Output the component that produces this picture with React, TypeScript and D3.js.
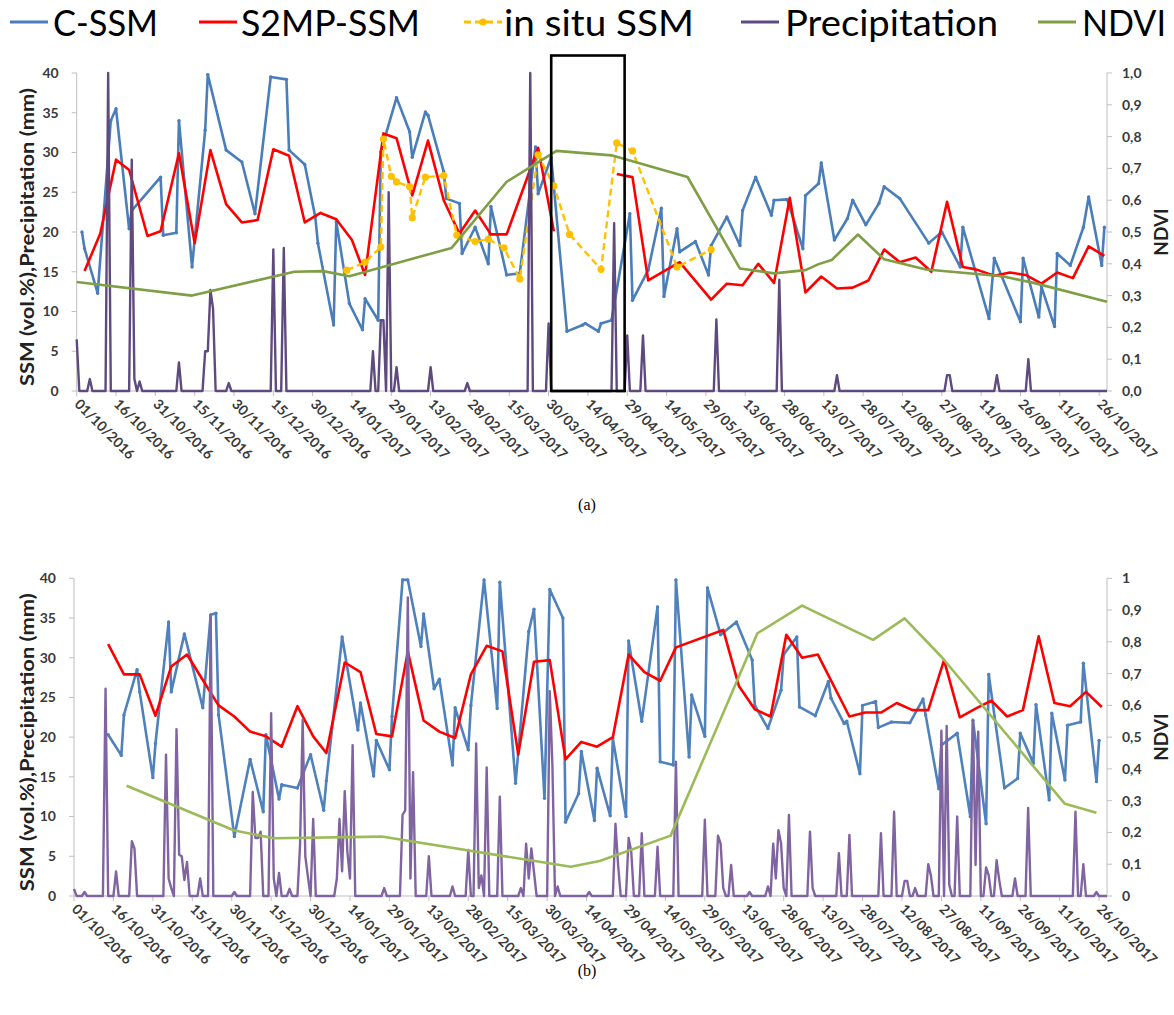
import React from "react";
import * as d3 from "d3";

type Pt = [string, number | null];

// x axis tick labels (every 15 days)
const tickLabels = [
  "01/10/2016", "16/10/2016", "31/10/2016", "15/11/2016", "30/11/2016", "15/12/2016", "30/12/2016",
  "14/01/2017", "29/01/2017", "13/02/2017", "28/02/2017", "15/03/2017", "30/03/2017", "14/04/2017",
  "29/04/2017", "14/05/2017", "29/05/2017", "13/06/2017", "28/06/2017", "13/07/2017", "28/07/2017",
  "12/08/2017", "27/08/2017", "11/09/2017", "26/09/2017", "11/10/2017", "26/10/2017",
];
const ssmTicks = [0, 5, 10, 15, 20, 25, 30, 35, 40];
const ndviTicks = [0, 0.1, 0.2, 0.3, 0.4, 0.5, 0.6, 0.7, 0.8, 0.9, 1];
const ndviLabelsA = ["0,0", "0,1", "0,2", "0,3", "0,4", "0,5", "0,6", "0,7", "0,8", "0,9", "1,0"];
const ndviLabelsB = ["0", "0,1", "0,2", "0,3", "0,4", "0,5", "0,6", "0,7", "0,8", "0,9", "1"];

// ---------- panel (a) ----------
const cssmA: Pt[] = [
  ["2016-10-03", 20.0], ["2016-10-04", 17.9], ["2016-10-09", 12.3], ["2016-10-14", 34.0], ["2016-10-16", 35.5],
  ["2016-10-21", 20.4], ["2016-10-22", 22.7], ["2016-11-02", 26.9], ["2016-11-03", 19.6], ["2016-11-08", 19.9],
  ["2016-11-09", 34.0], ["2016-11-14", 15.6], ["2016-11-19", 32.8], ["2016-11-20", 39.8], ["2016-11-27", 30.3],
  ["2016-12-03", 28.8], ["2016-12-08", 22.3], ["2016-12-14", 39.5], ["2016-12-20", 39.2], ["2016-12-21", 30.3],
  ["2016-12-27", 28.5], ["2016-12-31", 21.9], ["2017-01-01", 18.6], ["2017-01-07", 8.3], ["2017-01-08", 21.3],
  ["2017-01-13", 11.0], ["2017-01-18", 7.7], ["2017-01-19", 11.6], ["2017-01-24", 8.9], ["2017-01-25", 30.1],
  ["2017-01-31", 36.9], ["2017-02-05", 32.6], ["2017-02-06", 29.4], ["2017-02-11", 35.1], ["2017-02-12", 34.7],
  ["2017-02-18", 27.6], ["2017-02-19", 24.2], ["2017-02-24", 23.6], ["2017-02-25", 17.3], ["2017-03-02", 20.6],
  ["2017-03-07", 16.0], ["2017-03-08", 23.2], ["2017-03-14", 14.6], ["2017-03-19", 14.8], ["2017-03-25", 30.7],
  ["2017-03-26", 24.8], ["2017-03-31", 29.4], ["2017-04-06", 7.5], ["2017-04-12", 8.3], ["2017-04-13", 8.5],
  ["2017-04-18", 7.5], ["2017-04-19", 8.5], ["2017-04-23", 8.9], ["2017-04-30", 22.3], ["2017-05-01", 11.4],
  ["2017-05-07", 15.2], ["2017-05-12", 23.0], ["2017-05-13", 11.9], ["2017-05-18", 20.4], ["2017-05-19", 17.5],
  ["2017-05-25", 18.8], ["2017-05-30", 14.6], ["2017-05-31", 18.3], ["2017-06-06", 21.9], ["2017-06-11", 18.3],
  ["2017-06-12", 22.7], ["2017-06-17", 26.9], ["2017-06-23", 22.1], ["2017-06-24", 24.0], ["2017-06-29", 24.1],
  ["2017-07-05", 17.9], ["2017-07-06", 24.6], ["2017-07-11", 26.1], ["2017-07-12", 28.7], ["2017-07-17", 19.0],
  ["2017-07-22", 21.7], ["2017-07-24", 24.0], ["2017-07-29", 20.9], ["2017-08-03", 23.6], ["2017-08-05", 25.7],
  ["2017-08-11", 24.2], ["2017-08-22", 18.6], ["2017-08-27", 20.0], ["2017-09-03", 15.6], ["2017-09-04", 20.6],
  ["2017-09-14", 9.1], ["2017-09-16", 16.7], ["2017-09-26", 8.7], ["2017-09-27", 16.7], ["2017-10-03", 9.3],
  ["2017-10-04", 13.1], ["2017-10-09", 8.1], ["2017-10-10", 17.3], ["2017-10-15", 15.8], ["2017-10-20", 20.6],
  ["2017-10-22", 24.4], ["2017-10-27", 15.8], ["2017-10-28", 20.6],
];

const s2mpA: Pt[] = [
  ["2016-10-04", 15.1], ["2016-10-10", 19.8], ["2016-10-16", 29.1], ["2016-10-21", 27.8], ["2016-10-28", 19.5],
  ["2016-11-02", 20.1], ["2016-11-09", 29.9], ["2016-11-15", 18.6], ["2016-11-21", 30.3], ["2016-11-27", 23.5],
  ["2016-12-03", 21.2], ["2016-12-09", 21.5], ["2016-12-15", 30.4], ["2016-12-21", 29.6], ["2016-12-27", 21.2],
  ["2017-01-02", 22.4], ["2017-01-08", 21.6], ["2017-01-14", 19.0], ["2017-01-19", 14.6], ["2017-01-26", 32.4],
  ["2017-01-31", 31.8], ["2017-02-06", 24.6], ["2017-02-12", 31.5], ["2017-02-18", 24.0], ["2017-02-24", 19.8],
  ["2017-03-02", 22.7], ["2017-03-08", 19.7], ["2017-03-14", 19.7], ["2017-03-26", 30.6], ["2017-04-01", 20.1],
  ["2017-04-12", null],
  ["2017-04-25", 27.3], ["2017-05-01", 26.9], ["2017-05-07", 13.9], ["2017-05-19", 16.2], ["2017-05-31", 11.5],
  ["2017-06-06", 13.5], ["2017-06-12", 13.3], ["2017-06-18", 16.0], ["2017-06-24", 13.6], ["2017-06-30", 24.3],
  ["2017-07-06", 12.4], ["2017-07-12", 14.4], ["2017-07-18", 12.9], ["2017-07-24", 13.0], ["2017-07-30", 13.9],
  ["2017-08-05", 17.8], ["2017-08-11", 16.2], ["2017-08-17", 16.8], ["2017-08-23", 15.0], ["2017-08-29", 23.8],
  ["2017-09-04", 15.6], ["2017-09-09", 15.3], ["2017-09-16", 14.5], ["2017-09-22", 14.9], ["2017-09-28", 14.6],
  ["2017-10-04", 13.5], ["2017-10-10", 14.9], ["2017-10-16", 14.2], ["2017-10-22", 18.2], ["2017-10-28", 17.0],
];

const insituA: Pt[] = [
  ["2017-01-12", 15.2], ["2017-01-19", 16.2], ["2017-01-25", 18.1], ["2017-01-26", 31.7], ["2017-01-29", 27.0],
  ["2017-01-31", 26.3], ["2017-02-05", 25.7], ["2017-02-06", 21.8], ["2017-02-11", 26.9], ["2017-02-18", 27.1],
  ["2017-02-23", 19.6], ["2017-03-02", 18.8], ["2017-03-07", 19.1], ["2017-03-13", 18.0], ["2017-03-19", 14.1],
  ["2017-03-26", 29.7], ["2017-04-01", 25.8], ["2017-04-07", 19.7], ["2017-04-19", 15.3], ["2017-04-25", 31.2],
  ["2017-05-01", 30.2], ["2017-05-18", 15.6], ["2017-05-31", 17.8],
];

const ndviA: Pt[] = [
  ["2016-10-01", 0.343], ["2016-11-14", 0.30], ["2016-12-23", 0.375], ["2017-01-03", 0.377], ["2017-01-13", 0.361],
  ["2017-02-21", 0.45], ["2017-03-14", 0.658], ["2017-04-02", 0.755], ["2017-04-23", 0.741], ["2017-05-22", 0.673],
  ["2017-06-11", 0.385], ["2017-06-24", 0.370], ["2017-07-06", 0.38], ["2017-07-11", 0.399], ["2017-07-16", 0.412],
  ["2017-07-26", 0.492], ["2017-08-05", 0.414], ["2017-08-21", 0.382], ["2017-09-19", 0.361], ["2017-10-01", 0.34],
  ["2017-10-29", 0.281],
];

// rainy days only (mm); every other day is 0
const rainA: Pt[] = [
  ["2016-10-01", 6.5], ["2016-10-06", 1.5], ["2016-10-13", 40], ["2016-10-22", 29.1], ["2016-10-23", 1.5],
  ["2016-10-25", 1.2], ["2016-11-09", 3.6], ["2016-11-19", 5], ["2016-11-20", 5], ["2016-11-21", 12.7],
  ["2016-11-22", 10.4], ["2016-11-28", 1], ["2016-12-15", 17.8], ["2016-12-19", 18], ["2017-01-22", 5],
  ["2017-01-25", 8.9], ["2017-01-26", 8.9], ["2017-01-28", 25], ["2017-01-31", 3], ["2017-02-13", 3],
  ["2017-02-27", 1], ["2017-03-23", 40], ["2017-03-30", 8.5], ["2017-04-24", 21.1], ["2017-04-29", 7],
  ["2017-05-05", 7], ["2017-06-02", 9], ["2017-06-26", 14], ["2017-07-18", 2], ["2017-08-29", 2],
  ["2017-08-30", 2], ["2017-09-17", 2], ["2017-09-29", 4],
];

// highlighted period in (a): dates and SSM top value
const boxA: [string, string, number] = ["2017-03-31", "2017-04-28", 42.2];

// ---------- panel (b) ----------
const cssmB: Pt[] = [
  ["2016-10-14", 20.3], ["2016-10-19", 17.7], ["2016-10-20", 22.8], ["2016-10-25", 28.5], ["2016-10-26", 25.7],
  ["2016-10-31", 14.9], ["2016-11-01", 19.2], ["2016-11-06", 34.5], ["2016-11-07", 25.7], ["2016-11-12", 33.0],
  ["2016-11-19", 23.7], ["2016-11-22", 35.4], ["2016-11-24", 35.6], ["2016-11-25", 22.8], ["2016-12-01", 7.5],
  ["2016-12-07", 17.2], ["2016-12-12", 10.6], ["2016-12-13", 20.3], ["2016-12-18", 12.2], ["2016-12-19", 14.0],
  ["2016-12-25", 13.6], ["2016-12-30", 17.8], ["2017-01-04", 10.8], ["2017-01-05", 14.5], ["2017-01-11", 32.6],
  ["2017-01-17", 20.9], ["2017-01-18", 24.3], ["2017-01-23", 15.1], ["2017-01-24", 19.6], ["2017-01-29", 15.9],
  ["2017-01-30", 22.6], ["2017-02-03", 39.8], ["2017-02-05", 39.8], ["2017-02-10", 31.4], ["2017-02-11", 35.5],
  ["2017-02-15", 26.1], ["2017-02-17", 27.3], ["2017-02-22", 16.5], ["2017-02-23", 23.7], ["2017-02-28", 18.4],
  ["2017-03-01", 24.0], ["2017-03-06", 39.8], ["2017-03-11", 23.6], ["2017-03-12", 39.5], ["2017-03-18", 14.2],
  ["2017-03-23", 33.3], ["2017-03-25", 36.1], ["2017-03-29", 12.3], ["2017-03-31", 38.6], ["2017-04-05", 35.0],
  ["2017-04-06", 9.3], ["2017-04-11", 12.9], ["2017-04-12", 18.2], ["2017-04-17", 9.5], ["2017-04-18", 16.1],
  ["2017-04-23", 10.1], ["2017-04-24", 19.8], ["2017-04-29", 10.0], ["2017-04-30", 32.1], ["2017-05-05", 22.0],
  ["2017-05-11", 36.4], ["2017-05-12", 16.9], ["2017-05-17", 16.5], ["2017-05-18", 39.8], ["2017-05-23", 17.5],
  ["2017-05-24", 25.3], ["2017-05-29", 20.1], ["2017-05-30", 38.8], ["2017-06-04", 32.9], ["2017-06-10", 34.5],
  ["2017-06-16", 29.7], ["2017-06-17", 24.0], ["2017-06-22", 21.1], ["2017-06-27", 25.9], ["2017-06-28", 30.4],
  ["2017-07-03", 32.6], ["2017-07-04", 23.8], ["2017-07-10", 22.7], ["2017-07-15", 27.0], ["2017-07-16", 24.9],
  ["2017-07-21", 21.7], ["2017-07-22", 22.0], ["2017-07-27", 15.4], ["2017-07-28", 24.0], ["2017-08-02", 24.5],
  ["2017-08-03", 21.2], ["2017-08-08", 21.9], ["2017-08-15", 21.8], ["2017-08-20", 24.8], ["2017-08-21", 22.8],
  ["2017-08-26", 13.5], ["2017-08-27", 19.0], ["2017-09-02", 20.5], ["2017-09-07", 10.0], ["2017-09-08", 22.1],
  ["2017-09-13", 9.1], ["2017-09-14", 27.9], ["2017-09-20", 13.6], ["2017-09-25", 14.8], ["2017-09-26", 20.5],
  ["2017-10-01", 16.7], ["2017-10-02", 24.1], ["2017-10-07", 12.1], ["2017-10-08", 23.0], ["2017-10-13", 14.6],
  ["2017-10-14", 21.5], ["2017-10-19", 21.9], ["2017-10-20", 29.3], ["2017-10-25", 14.4], ["2017-10-26", 19.6],
];

const s2mpB: Pt[] = [
  ["2016-10-14", 31.7], ["2016-10-20", 27.9], ["2016-10-26", 27.9], ["2016-11-01", 22.7], ["2016-11-07", 28.9],
  ["2016-11-13", 30.4], ["2016-11-19", 27.2], ["2016-11-25", 24.0], ["2016-12-01", 22.6], ["2016-12-07", 20.7],
  ["2016-12-13", 20.1], ["2016-12-19", 18.8], ["2016-12-25", 23.9], ["2016-12-31", 20.1], ["2017-01-05", 18.0],
  ["2017-01-12", 29.4], ["2017-01-18", 28.2], ["2017-01-24", 20.4], ["2017-01-30", 20.1], ["2017-02-05", 30.8],
  ["2017-02-11", 22.1], ["2017-02-17", 20.7], ["2017-02-23", 19.9], ["2017-03-01", 27.9], ["2017-03-07", 31.5],
  ["2017-03-13", 30.8], ["2017-03-19", 17.8], ["2017-03-25", 29.5], ["2017-03-31", 29.7], ["2017-04-06", 17.2],
  ["2017-04-12", 19.4], ["2017-04-18", 18.8], ["2017-04-24", 20.0], ["2017-04-30", 30.4], ["2017-05-06", 28.2],
  ["2017-05-12", 27.1], ["2017-05-18", 31.3], ["2017-06-05", 33.5], ["2017-06-11", 26.4], ["2017-06-17", 23.5],
  ["2017-06-23", 22.6], ["2017-06-29", 32.9], ["2017-07-05", 30.0], ["2017-07-11", 30.4], ["2017-07-23", 22.6],
  ["2017-07-29", 23.1], ["2017-08-04", 23.1], ["2017-08-10", 24.3], ["2017-08-16", 23.4], ["2017-08-22", 23.4],
  ["2017-08-28", 29.7], ["2017-09-03", 22.5], ["2017-09-09", 23.6], ["2017-09-15", 24.6], ["2017-09-21", 22.6],
  ["2017-09-27", 23.4], ["2017-10-03", 32.7], ["2017-10-09", 24.3], ["2017-10-15", 23.9], ["2017-10-21", 25.7],
  ["2017-10-27", 23.8],
];

const ndviB: Pt[] = [
  ["2016-10-21", 0.347], ["2016-12-01", 0.206], ["2016-12-16", 0.182], ["2017-01-26", 0.187], ["2017-04-08", 0.092],
  ["2017-04-19", 0.11], ["2017-05-16", 0.19], ["2017-06-18", 0.827], ["2017-07-05", 0.914], ["2017-08-01", 0.806],
  ["2017-08-13", 0.874], ["2017-08-27", 0.753], ["2017-10-13", 0.29], ["2017-10-25", 0.262],
];

const rainB: Pt[] = [
  ["2016-10-01", 0.9], ["2016-10-05", 0.5], ["2016-10-13", 26.1], ["2016-10-17", 3.1], ["2016-10-23", 6.9],
  ["2016-10-24", 6.0], ["2016-11-05", 17.8], ["2016-11-06", 2.2], ["2016-11-07", 1.0], ["2016-11-09", 21.0],
  ["2016-11-10", 5.2], ["2016-11-11", 5.0], ["2016-11-12", 2.0], ["2016-11-13", 4.3], ["2016-11-18", 2.2],
  ["2016-11-22", 35.2], ["2016-12-01", 0.5], ["2016-12-08", 13.1], ["2016-12-09", 7.3], ["2016-12-10", 7.3],
  ["2016-12-11", 8.1], ["2016-12-15", 23.0], ["2016-12-16", 2.2], ["2016-12-18", 2.9], ["2016-12-22", 0.9],
  ["2016-12-26", 6.4], ["2016-12-27", 22.2], ["2016-12-28", 5.0], ["2016-12-29", 2.4], ["2016-12-31", 9.7],
  ["2017-01-09", 2.2], ["2017-01-10", 9.7], ["2017-01-11", 3.1], ["2017-01-12", 13.2], ["2017-01-13", 5.6],
  ["2017-01-14", 2.2], ["2017-01-15", 19.0], ["2017-01-27", 1.0], ["2017-02-03", 10.2], ["2017-02-04", 10.8],
  ["2017-02-05", 37.6], ["2017-02-06", 2.2], ["2017-02-07", 15.6], ["2017-02-13", 5.0], ["2017-02-22", 1.2],
  ["2017-02-28", 5.8], ["2017-03-03", 19.2], ["2017-03-04", 1.0], ["2017-03-05", 2.6], ["2017-03-07", 16.2],
  ["2017-03-12", 12.5], ["2017-03-20", 1.0], ["2017-03-22", 6.6], ["2017-03-23", 2.2], ["2017-03-24", 6.0],
  ["2017-03-25", 3.0], ["2017-03-31", 25.8], ["2017-04-01", 16.5], ["2017-04-03", 1.2], ["2017-04-15", 0.5],
  ["2017-04-25", 9.1], ["2017-04-26", 3.9], ["2017-04-30", 7.3], ["2017-05-01", 5.6], ["2017-05-05", 7.9],
  ["2017-05-11", 6.2], ["2017-05-18", 16.9], ["2017-05-29", 9.6], ["2017-06-03", 7.6], ["2017-06-04", 6.6],
  ["2017-06-05", 1.0], ["2017-06-08", 3.9], ["2017-06-15", 0.5], ["2017-06-22", 1.2], ["2017-06-24", 6.6],
  ["2017-06-25", 2.2], ["2017-06-26", 8.3], ["2017-06-27", 6.6], ["2017-06-28", 1.0], ["2017-06-30", 10.2],
  ["2017-07-08", 8.1], ["2017-07-09", 1.0], ["2017-07-19", 5.4], ["2017-07-23", 7.7], ["2017-08-04", 7.9],
  ["2017-08-09", 10.6], ["2017-08-13", 1.9], ["2017-08-14", 1.9], ["2017-08-17", 1.0], ["2017-08-22", 4.0],
  ["2017-08-23", 2.6], ["2017-08-27", 20.8], ["2017-08-29", 21.4], ["2017-08-30", 1.4], ["2017-09-02", 10.0],
  ["2017-09-08", 22.2], ["2017-09-09", 3.9], ["2017-09-10", 20.7], ["2017-09-13", 3.6], ["2017-09-14", 2.6],
  ["2017-09-17", 4.5], ["2017-09-18", 2.0], ["2017-09-24", 2.2], ["2017-09-29", 11.1], ["2017-10-17", 10.6],
  ["2017-10-20", 4.0], ["2017-10-25", 0.5],
];

const legendItems = ["C-SSM", "S2MP-SSM", "in situ SSM", "Precipitation", "NDVI"];

// ---------- helpers ----------
const parse = d3.timeParse("%Y-%m-%d");
const parseTick = d3.timeParse("%d/%m/%Y");
const key = d3.timeFormat("%Y-%m-%d");
const firstDay = parse("2016-10-01") as Date;
const lastDay = parse("2017-10-29") as Date;

type Datum = { date: Date; value: number | null };
const toData = (arr: Pt[]): Datum[] => arr.map(([d, v]) => ({ date: parse(d) as Date, value: v }));

// daily precipitation series, zero on days that are not listed
const dailyRain = (arr: Pt[]): Datum[] => {
  const m = new Map(arr.map(([d, v]) => [d, v]));
  return d3.timeDay
    .range(firstDay, d3.timeDay.offset(lastDay, 1))
    .map((d) => ({ date: d, value: (m.get(key(d)) as number) ?? 0 }));
};

const FONT = "Lato, 'Open Sans', sans-serif";
const AXIS_GRAY = "#BFBFBF";
const LABEL = "#3a3a3a";

type PanelProps = {
  x0: number;
  x1: number;
  top: number;
  bottom: number;
  cssm: Pt[];
  s2mp: Pt[];
  insitu?: Pt[];
  ndvi: Pt[];
  rain: Pt[];
  ndviLabels: string[];
  colors: { cssm: string; s2mp: string; rain: string; ndvi: string };
  box?: [string, string, number];
};

function Panel(p: PanelProps) {
  const x = d3.scaleTime().domain([firstDay, lastDay]).range([p.x0, p.x1]);
  const y = d3.scaleLinear().domain([0, 40]).range([p.bottom, p.top]);
  const y2 = d3.scaleLinear().domain([0, 1]).range([p.bottom, p.top]);

  const line = d3
    .line<Datum>()
    .defined((d) => d.value !== null)
    .x((d) => x(d.date))
    .y((d) => y(d.value as number));
  const line2 = d3
    .line<Datum>()
    .x((d) => x(d.date))
    .y((d) => y2(d.value as number));

  const cssm = toData(p.cssm);
  const s2mp = toData(p.s2mp);
  const insitu = p.insitu ? toData(p.insitu) : [];
  const ndvi = toData(p.ndvi);
  const rain = dailyRain(p.rain);
  const midY = (p.top + p.bottom) / 2 + 5;

  return (
    <g>
      {/* axes */}
      <line x1={p.x0} x2={p.x0} y1={p.top} y2={p.bottom} stroke={AXIS_GRAY} />
      <line x1={p.x1} x2={p.x1} y1={p.top} y2={p.bottom} stroke={AXIS_GRAY} />
      <line x1={p.x0} x2={p.x1} y1={p.bottom} y2={p.bottom} stroke={AXIS_GRAY} />
      {ssmTicks.map((t) => (
        <g key={"l" + t}>
          <line x1={p.x0 - 5} x2={p.x0} y1={y(t)} y2={y(t)} stroke={AXIS_GRAY} />
          <text x={p.x0 - 18} y={y(t)} dy="0.35em" textAnchor="end" fontSize={14} fontWeight="bold" fill={LABEL}>
            {t}
          </text>
        </g>
      ))}
      {ndviTicks.map((t, i) => (
        <g key={"r" + t}>
          <line x1={p.x1} x2={p.x1 + 5} y1={y2(t)} y2={y2(t)} stroke={AXIS_GRAY} />
          <text x={p.x1 + 15} y={y2(t)} dy="0.35em" fontSize={14} fontWeight="bold" fill={LABEL}>
            {p.ndviLabels[i]}
          </text>
        </g>
      ))}
      {tickLabels.map((t) => {
        const tx = x(parseTick(t) as Date);
        return (
          <g key={t}>
            <line x1={tx} x2={tx} y1={p.bottom} y2={p.bottom + 5} stroke={AXIS_GRAY} />
            <text
              transform={`translate(${tx - 3},${p.bottom + 14}) rotate(45)`}
              fontSize={14}
              fontWeight="bold"
              fill={LABEL}
            >
              {t}
            </text>
          </g>
        );
      })}
      <text
        transform={`translate(34,${midY}) rotate(-90)`}
        textAnchor="middle"
        fontSize={18}
        fontWeight="bold"
        fill="#222"
        textLength={298}
        lengthAdjust="spacingAndGlyphs"
      >
        SSM (vol.%),Precipitation (mm)
      </text>
      <text
        transform={`translate(${p.x1 + 61},${midY - 5}) rotate(-90)`}
        textAnchor="middle"
        fontSize={19}
        fontWeight="bold"
        fill="#222"
      >
        NDVI
      </text>

      {/* series */}
      <path d={line(cssm) ?? ""} fill="none" stroke={p.colors.cssm} strokeWidth={2.6} strokeLinejoin="round" />
      {cssm.map((d, i) => (
        <circle key={"c" + i} cx={x(d.date)} cy={y(d.value as number)} r={1.7} fill={p.colors.cssm} />
      ))}
      <path d={line(s2mp) ?? ""} fill="none" stroke={p.colors.s2mp} strokeWidth={2.6} strokeLinejoin="round" />
      {insitu.length > 0 && (
        <g>
          <path d={line(insitu) ?? ""} fill="none" stroke="#FFC000" strokeWidth={2.4} strokeDasharray="7,4" />
          {insitu.map((d, i) => (
            <circle key={"i" + i} cx={x(d.date)} cy={y(d.value as number)} r={3.6} fill="#FFC000" />
          ))}
        </g>
      )}
      <path d={line(rain) ?? ""} fill="none" stroke={p.colors.rain} strokeWidth={2.4} strokeLinejoin="round" />
      <path d={line2(ndvi) ?? ""} fill="none" stroke={p.colors.ndvi} strokeWidth={2.6} strokeLinejoin="round" />

      {p.box && (
        <rect
          x={x(parse(p.box[0]) as Date)}
          y={y(p.box[2])}
          width={x(parse(p.box[1]) as Date) - x(parse(p.box[0]) as Date)}
          height={p.bottom - y(p.box[2])}
          fill="none"
          stroke="#000"
          strokeWidth={2.6}
        />
      )}
    </g>
  );
}

function Legend() {
  // line start, text start, text width
  const items = [
    { lx: 10, tx: 53, w: 105, color: "#4A7EBB", dash: false },
    { lx: 199, tx: 241, w: 179, color: "#FF0000", dash: false },
    { lx: 464, tx: 504, w: 190, color: "#FFC000", dash: true },
    { lx: 741, tx: 785, w: 213, color: "#5F4A80", dash: false },
    { lx: 1038, tx: 1082, w: 84, color: "#7F9E45", dash: false },
  ];
  return (
    <g>
      {items.map((it, i) => (
        <g key={i}>
          <line
            x1={it.lx}
            x2={it.lx + 38}
            y1={22}
            y2={22}
            stroke={it.color}
            strokeWidth={3}
            strokeDasharray={it.dash ? "7,4" : undefined}
          />
          {it.dash && <circle cx={it.lx + 19} cy={22} r={3.6} fill={it.color} />}
          <text x={it.tx} y={36} fontSize={37} fill="#000" textLength={it.w} lengthAdjust="spacingAndGlyphs">
            {legendItems[i]}
          </text>
        </g>
      ))}
    </g>
  );
}

export default function App() {
  return (
    <svg
      width={1174}
      height={1015}
      style={{ position: "absolute", left: 0, top: 0, background: "#fff", fontFamily: FONT }}
    >
      <Legend />
      <Panel
        x0={76.7}
        x1={1107}
        top={73}
        bottom={391}
        cssm={cssmA}
        s2mp={s2mpA}
        insitu={insituA}
        ndvi={ndviA}
        rain={rainA}
        ndviLabels={ndviLabelsA}
        colors={{ cssm: "#4A7EBB", s2mp: "#FF0000", rain: "#5F4A80", ndvi: "#7F9E45" }}
        box={boxA}
      />
      <text x={587} y={510} textAnchor="middle" fontSize={16} fontFamily="'Liberation Serif', serif">
        (a)
      </text>
      <Panel
        x0={74}
        x1={1107}
        top={578.3}
        bottom={896}
        cssm={cssmB}
        s2mp={s2mpB}
        ndvi={ndviB}
        rain={rainB}
        ndviLabels={ndviLabelsB}
        colors={{ cssm: "#4F81BD", s2mp: "#FF0000", rain: "#8064A2", ndvi: "#9BBB59" }}
      />
      <text x={587} y={976} textAnchor="middle" fontSize={16} fontFamily="'Liberation Serif', serif">
        (b)
      </text>
    </svg>
  );
}
